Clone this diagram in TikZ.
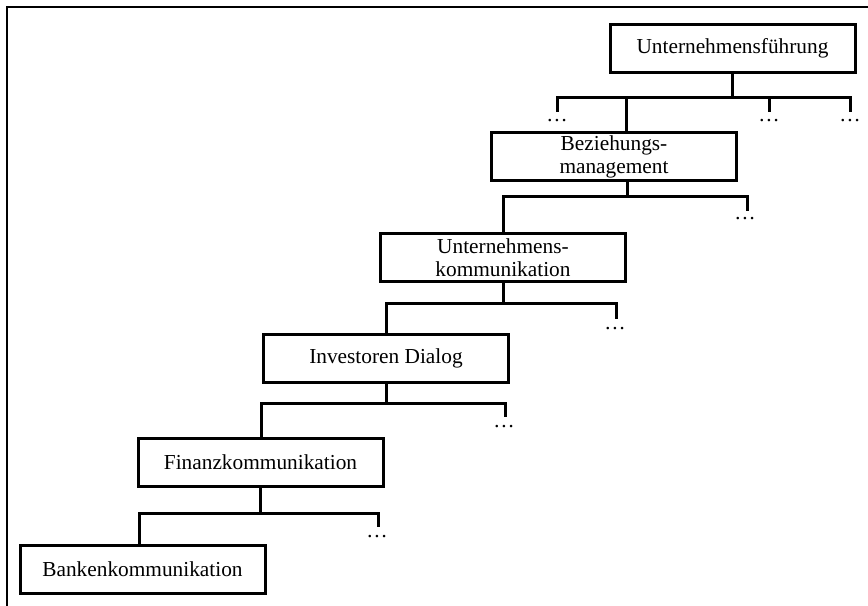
\documentclass[tikz,border=0pt]{standalone}
\usepackage{fontspec}
\setmainfont{Liberation Serif}
\begin{document}
\begin{tikzpicture}[x=0.75pt,y=-0.75pt,
  unit/.style={draw, line width=2.25pt, minimum width=183.75pt, minimum height=36pt,
    inner sep=0pt, align=center, font=\fontsize{16}{17.5}\selectfont},
  link/.style={line width=2.25pt},
  more/.style={anchor=base, inner sep=0pt, font=\fontsize{16}{17.5}\selectfont}]
\useasboundingbox (0,0) rectangle (868,606);
% outer frame
\draw[line width=1.5pt] (7,606) -- (7,7) -- (868,7);

% units of the hierarchy
\node[unit] (b1) at (732.5,48.5) {Unternehmensführung};
\node[unit] (b2) at (614,157) {Beziehungs-\\management};
\node[unit] (b3) at (503,257.5) {Unternehmens-\\kommunikation};
\node[unit] (b4) at (386,358.5) {Investoren Dialog};
\node[unit] (b5) at (260.5,462) {Finanzkommunikation};
\node[unit] (b6) at (142.5,569) {Bankenkommunikation};

% level 1
\coordinate (bus1) at (733,98);
\coordinate (d1a) at (557,112);
\coordinate (d1b) at (769,112);
\coordinate (d1c) at (850,112);
\coordinate (t2) at (626,98);
\draw[link] (b1.south) -- (b1.south |- bus1);
\draw[link] (d1a) -- (d1a |- bus1) -- (d1c |- bus1) -- (d1c);
\draw[link] (d1b) -- (d1b |- bus1);
\draw[link] (t2) -- (t2 |- b2.north);
\node[more] (m1a) at (557,122) {…};
\node[more] (m1b) at (769,122) {…};
\node[more] (m1c) at (850,122) {…};

% level 2
\coordinate (s2) at (627,182);
\coordinate (bus2) at (627,197);
\coordinate (t3) at (503,197);
\coordinate (d2) at (747,211);
\draw[link] (s2 |- b2.south) -- (bus2);
\draw[link] (t3 |- b3.north) -- (t3) -- (d2 |- bus2) -- (d2);
\node[more] (m2) at (745,220) {…};

% level 3
\coordinate (bus3) at (503,303);
\coordinate (t4) at (386,303);
\coordinate (d3) at (616,319);
\draw[link] (b3.south) -- (bus3);
\draw[link] (t4 |- b4.north) -- (t4) -- (d3 |- bus3) -- (d3);
\node[more] (m3) at (615,329) {…};

% level 4
\coordinate (bus4) at (386,403);
\coordinate (t5) at (261,403);
\coordinate (d4) at (505,417);
\draw[link] (b4.south) -- (bus4);
\draw[link] (t5 |- b5.north) -- (t5) -- (d4 |- bus4) -- (d4);
\node[more] (m4) at (504,427) {…};

% level 5
\coordinate (bus5) at (260,513);
\coordinate (t6) at (139,513);
\coordinate (d5) at (378,527);
\draw[link] (b5.south -| bus5) -- (bus5);
\draw[link] (t6 |- b6.north) -- (t6) -- (d5 |- bus5) -- (d5);
\node[more] (m5) at (377,537) {…};
\end{tikzpicture}
\end{document}
